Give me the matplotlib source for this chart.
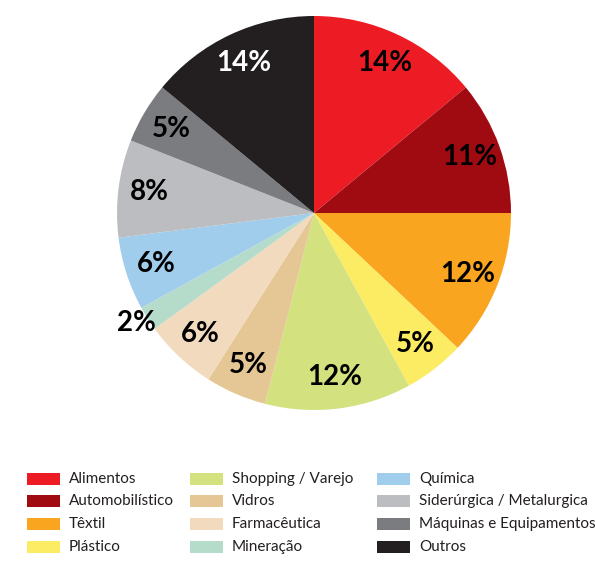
import matplotlib.pyplot as plt
from matplotlib.patches import Rectangle

setores = ["Alimentos", "Automobilístico", "Têxtil", "Plástico",
           "Shopping / Varejo", "Vidros", "Farmacêutica", "Mineração",
           "Química", "Siderúrgica / Metalurgica", "Máquinas e Equipamentos", "Outros"]
valores = [14, 11, 12, 5, 12, 5, 6, 2, 6, 8, 5, 14]
cores = ["#ED1C24", "#A00B12", "#F9A51F", "#FCEC63", "#D4E17F", "#E4C794",
         "#F2DABF", "#B5DCCB", "#A1CDEC", "#BCBDC0", "#7B7C7F", "#231F20"]

W, H = 595, 565
fig = plt.figure(figsize=(W/100, H/100), dpi=100, facecolor='w')
cx, cy, R = 314, 213, 197
ax = fig.add_axes([(cx-R)/W, (H-cy-R)/H, 2*R/W, 2*R/H])
wedges, texts = ax.pie(valores, colors=cores, startangle=90, counterclock=False,
                       labels=[f"{v}%" for v in valores], labeldistance=0.84,
                       radius=1.0, wedgeprops=dict(linewidth=0))
for i, t in enumerate(texts):
    t.set_fontsize(20)
    t.set_fontweight('bold')
    t.set_fontfamily('Lato')
    t.set_ha('center')
    t.set_va('center')
    t.set_color('white' if setores[i] == "Outros" else 'black')
# 2% label sits outside the slice
x, y = texts[7].get_position()
texts[7].set_position((x*1.27, y*1.24))
ax.set_xlim(-1, 1)
ax.set_ylim(-1, 1)
ax.set_aspect('equal')
ax.axis('off')

# legend, 3 columns x 4 rows
col_x = [27, 190, 377]
row_y = [479, 501, 524, 547]
for i, (nome, cor) in enumerate(zip(setores, cores)):
    c, r = i // 4, i % 4
    x0 = col_x[c]
    y0 = row_y[r]
    fig.add_artist(Rectangle((x0/W, (H-y0-6)/H), 33/W, 12/H, transform=fig.transFigure,
                             facecolor=cor, edgecolor='none'))
    fig.text((x0+42)/W, (H-y0)/H, nome, fontsize=11, family='Lato',
             color='#231F20', va='center', ha='left')

plt.savefig("out.png", dpi=100)
